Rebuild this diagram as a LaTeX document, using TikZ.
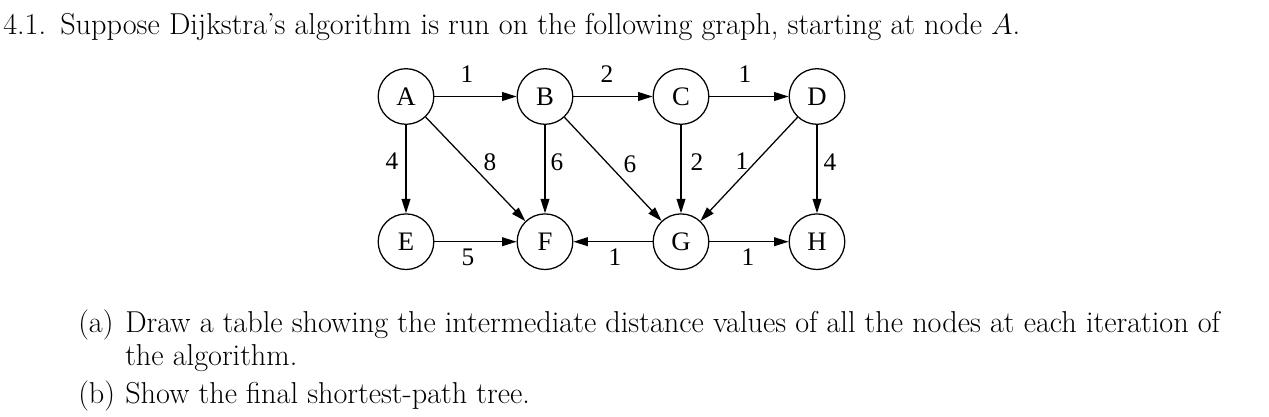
\documentclass[tikz,border=0pt]{standalone}
\usepackage{fontspec}
\newfontfamily\graphfont{Liberation Serif}
\usepackage{tikz}
\usetikzlibrary{arrows.meta}

\tikzset{
	vertex/.style={draw, circle, line width=0.9pt, minimum size=1.39cm, inner sep=0pt, font=\graphfont\fontsize{19}{19}\selectfont},
	edge/.style={-{Triangle[length=0.36cm,width=0.22cm]}, line width=0.9pt},
	weight/.style={inner sep=0pt, font=\graphfont\fontsize{18}{18}\selectfont},
	txt/.style={anchor=base west, inner sep=0pt, font=\fontsize{21.5}{25}\selectfont}
}

\begin{document}
\begin{tikzpicture}[x=0.025cm, y=-0.025cm]
	\useasboundingbox (0,0) rectangle (1269,416);
	
	% Question
	\node[txt] (num) at (3,34) {4.1.};
	\node[txt] (question) at (60,34) {Suppose Dijkstra's algorithm is run on the following graph, starting at node $A$.};
	
	% Vertices
	\foreach \n/\x in {A/406,B/545,C/681,D/817} {
		\node[vertex] (\n) at (\x,96.5) {\n};
	}
	\foreach \n/\x in {E/406,F/545,G/681,H/817} {
		\node[vertex] (\n) at (\x,241.7) {\n};
	}
	
	% Edges
	\foreach \u/\v in {A/B,B/C,C/D,A/E,B/F,C/G,D/H,A/F,B/G,D/G,E/F,G/F,G/H} {
		\draw[edge] (\u) -- (\v);
	}
	
	% Weights
	\foreach \w/\x/\y [count=\i] in {1/467/74,2/607/74,1/745/74,4/392/161,8/490/162,6/557/162,6/630/164,2/697/162,1/742/161,4/830/162,5/468/257,1/615/257,1/748/257} {
		\node[weight] (w\i) at (\x,\y) {\w};
	}
	
	% Parts
	\node[txt] (parta) at (78,332) {(a)};
	\node[txt] (texta) at (125,332) {Draw a table showing the intermediate distance values of all the nodes at each iteration of};
	\node[txt] (textaa) at (125,365.5) {the algorithm.};
	\node[txt] (partb) at (78,403) {(b)};
	\node[txt] (textb) at (125,403) {Show the final shortest-path tree.};
\end{tikzpicture}
\end{document}
